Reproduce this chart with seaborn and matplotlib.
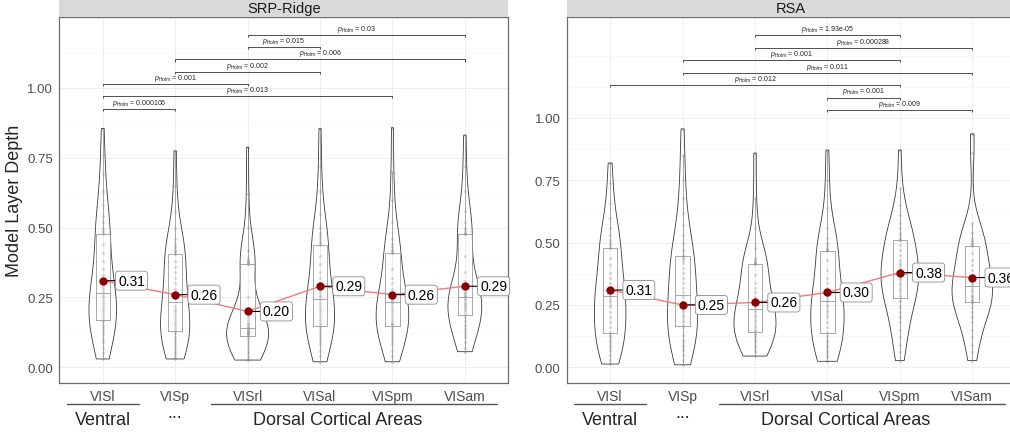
import numpy as np
import pandas as pd
import matplotlib
matplotlib.use("Agg")
import matplotlib.pyplot as plt
import seaborn as sns
from matplotlib.transforms import blended_transform_factory

# ---------------- data ----------------
areas = ["VISl", "VISp", "VISrl", "VISal", "VISpm", "VISam"]

srp_VISl = [0.03, 0.05, 0.07, 0.09, 0.10, 0.12, 0.13, 0.14, 0.15, 0.165,
            0.17, 0.18, 0.19, 0.20, 0.21, 0.22, 0.23, 0.24, 0.25, 0.26,
            0.27, 0.28, 0.29, 0.31, 0.33, 0.35, 0.38, 0.41, 0.44, 0.477,
            0.48, 0.49, 0.50, 0.52, 0.54, 0.58, 0.63, 0.69, 0.76, 0.854]
srp_VISp = [0.03, 0.04, 0.05, 0.06, 0.07, 0.08, 0.09, 0.10, 0.11, 0.124,
            0.13, 0.14, 0.15, 0.16, 0.17, 0.18, 0.19, 0.20, 0.21, 0.22,
            0.25, 0.26, 0.27, 0.28, 0.30, 0.32, 0.34, 0.36, 0.38, 0.404,
            0.41, 0.415, 0.42, 0.43, 0.44, 0.46, 0.50, 0.56, 0.65, 0.774]
srp_VISrl = [0.026, 0.03, 0.04, 0.05, 0.06, 0.07, 0.08, 0.09, 0.10, 0.11,
             0.114, 0.118, 0.12, 0.122, 0.125, 0.128, 0.13, 0.133, 0.136, 0.14,
             0.142, 0.145, 0.15, 0.155, 0.16, 0.17, 0.18, 0.20, 0.25, 0.369,
             0.37, 0.372, 0.375, 0.38, 0.385, 0.39, 0.42, 0.50, 0.62, 0.787]
srp_VISal = [0.02, 0.04, 0.06, 0.08, 0.09, 0.10, 0.11, 0.12, 0.13, 0.144,
             0.15, 0.16, 0.17, 0.18, 0.19, 0.20, 0.21, 0.22, 0.23, 0.24,
             0.25, 0.26, 0.27, 0.28, 0.30, 0.32, 0.34, 0.37, 0.40, 0.436,
             0.44, 0.45, 0.46, 0.47, 0.48, 0.50, 0.55, 0.63, 0.72, 0.854]
srp_VISpm = [0.02, 0.04, 0.06, 0.08, 0.09, 0.10, 0.11, 0.12, 0.13, 0.141,
             0.15, 0.155, 0.16, 0.17, 0.18, 0.19, 0.20, 0.21, 0.22, 0.23,
             0.235, 0.24, 0.245, 0.25, 0.26, 0.28, 0.30, 0.32, 0.35, 0.408,
             0.41, 0.415, 0.42, 0.43, 0.44, 0.46, 0.52, 0.60, 0.70, 0.857]
srp_VISam = [0.056, 0.07, 0.09, 0.11, 0.12, 0.13, 0.14, 0.15, 0.165, 0.18,
             0.19, 0.20, 0.21, 0.215, 0.22, 0.225, 0.23, 0.24, 0.245, 0.25,
             0.255, 0.26, 0.265, 0.27, 0.28, 0.29, 0.31, 0.34, 0.40, 0.477,
             0.478, 0.48, 0.482, 0.49, 0.50, 0.52, 0.56, 0.63, 0.72, 0.83]

rsa_VISl = [0.013, 0.03, 0.05, 0.07, 0.08, 0.09, 0.10, 0.11, 0.12, 0.129,
            0.14, 0.16, 0.18, 0.20, 0.22, 0.24, 0.25, 0.26, 0.27, 0.28,
            0.29, 0.30, 0.31, 0.32, 0.34, 0.36, 0.38, 0.41, 0.44, 0.479,
            0.48, 0.49, 0.50, 0.51, 0.53, 0.56, 0.60, 0.66, 0.74, 0.819]
rsa_VISp = [0.01, 0.03, 0.05, 0.07, 0.08, 0.09, 0.10, 0.11, 0.13, 0.16,
            0.17, 0.18, 0.19, 0.20, 0.21, 0.22, 0.23, 0.24, 0.26, 0.28,
            0.30, 0.32, 0.34, 0.36, 0.38, 0.40, 0.42, 0.43, 0.44, 0.443,
            0.45, 0.47, 0.50, 0.53, 0.57, 0.62, 0.68, 0.75, 0.85, 0.956]
rsa_VISrl = [0.045, 0.06, 0.07, 0.08, 0.09, 0.10, 0.11, 0.12, 0.13, 0.139,
             0.145, 0.15, 0.16, 0.17, 0.18, 0.19, 0.20, 0.21, 0.22, 0.23,
             0.24, 0.25, 0.26, 0.27, 0.28, 0.30, 0.32, 0.34, 0.37, 0.415,
             0.416, 0.418, 0.42, 0.425, 0.43, 0.44, 0.48, 0.56, 0.68, 0.859]
rsa_VISal = [0.024, 0.04, 0.05, 0.06, 0.07, 0.08, 0.09, 0.10, 0.11, 0.124,
             0.14, 0.16, 0.18, 0.20, 0.21, 0.22, 0.23, 0.24, 0.25, 0.26,
             0.27, 0.28, 0.29, 0.30, 0.32, 0.34, 0.36, 0.39, 0.43, 0.467,
             0.47, 0.475, 0.48, 0.49, 0.50, 0.52, 0.56, 0.64, 0.75, 0.871]
rsa_VISpm = [0.027, 0.06, 0.09, 0.12, 0.15, 0.18, 0.20, 0.22, 0.24, 0.267,
             0.28, 0.29, 0.30, 0.31, 0.32, 0.33, 0.34, 0.35, 0.36, 0.37,
             0.38, 0.39, 0.40, 0.41, 0.42, 0.43, 0.45, 0.47, 0.49, 0.509,
             0.51, 0.52, 0.53, 0.54, 0.56, 0.58, 0.61, 0.65, 0.72, 0.871]
rsa_VISam = [0.027, 0.06, 0.09, 0.12, 0.15, 0.18, 0.20, 0.22, 0.24, 0.259,
             0.262, 0.265, 0.27, 0.275, 0.28, 0.285, 0.29, 0.30, 0.31, 0.32,
             0.33, 0.34, 0.35, 0.36, 0.37, 0.39, 0.41, 0.43, 0.46, 0.487,
             0.49, 0.495, 0.50, 0.505, 0.51, 0.52, 0.54, 0.58, 0.86, 0.936]

srp_means = [0.31, 0.26, 0.20, 0.29, 0.26, 0.29]
rsa_means = [0.31, 0.25, 0.26, 0.30, 0.38, 0.36]

srp_pairs = [("VISl", "VISp"), ("VISl", "VISpm"), ("VISl", "VISrl"), ("VISp", "VISal"),
             ("VISp", "VISam"), ("VISrl", "VISal"), ("VISrl", "VISam")]
srp_pvals = ["0.000106", "0.013", "0.001", "0.002", "0.006", "0.015", "0.03"]

rsa_pairs = [("VISal", "VISam"), ("VISal", "VISpm"), ("VISl", "VISpm"), ("VISp", "VISam"),
             ("VISp", "VISpm"), ("VISrl", "VISam"), ("VISrl", "VISpm")]
rsa_pvals = ["0.009", "0.001", "0.012", "0.011", "0.001", "0.000288", "1.93e-05"]

y_ticks = [0.0, 0.25, 0.50, 0.75, 1.00]
y_label = "Model Layer Depth"

# ---------------- style ----------------
sns.set_style("white")
plt.rcParams["font.family"] = ["Liberation Sans", "DejaVu Sans"]
plt.rcParams["mathtext.fontset"] = "custom"
plt.rcParams["mathtext.rm"] = "Liberation Sans"
plt.rcParams["mathtext.it"] = "Liberation Sans:italic"

W, H = 1010, 435
fig = plt.figure(figsize=(W / 100, H / 100), dpi=100)

panel_top, panel_bot = 18, 384
panel_w = 449

panels = [
    dict(title="SRP-Ridge", data=[srp_VISl, srp_VISp, srp_VISrl, srp_VISal, srp_VISpm, srp_VISam],
         means=srp_means, pairs=srp_pairs, pvals=srp_pvals, ylim=(-0.056, 1.253),
         bstart=0.925, bstep=0.044, left=59.3),
    dict(title="RSA", data=[rsa_VISl, rsa_VISp, rsa_VISrl, rsa_VISal, rsa_VISpm, rsa_VISam],
         means=rsa_means, pairs=rsa_pairs, pvals=rsa_pvals, ylim=(-0.063, 1.405),
         bstart=1.032, bstep=0.050, left=566.7),
]

for spec in panels:
    x0 = spec["left"] / W
    ax = fig.add_axes([x0, 1 - panel_bot / H, panel_w / W, (panel_bot - panel_top) / H])
    sax = fig.add_axes([x0, 1 - panel_top / H, panel_w / W, panel_top / H])

    df = pd.DataFrame({
        "area": np.concatenate([[a] * len(v) for a, v in zip(areas, spec["data"])]),
        "value": np.concatenate([np.asarray(v, float) for v in spec["data"]]),
    })
    mdf = pd.DataFrame({"area": areas, "mean": spec["means"]})

    sns.stripplot(data=df, x="area", y="value", order=areas, jitter=False,
                  color="#8a8a8a", alpha=0.3, size=2.3, linewidth=0, ax=ax, zorder=1)
    sns.boxplot(data=df, x="area", y="value", order=areas, width=0.2, fill=False,
                color="#9a9a9a", linewidth=0.6, showfliers=False,
                capprops=dict(alpha=0, linewidth=0), ax=ax)
    sns.violinplot(data=df, x="area", y="value", order=areas, cut=0, inner=None,
                   fill=False, color="#3a3a3a", linewidth=0.6, density_norm="area",
                   width=0.58, bw_adjust=1.0, ax=ax)
    sns.pointplot(data=mdf, x="area", y="mean", order=areas, color="#F27B7B",
                  markers="", linestyles="-", linewidth=1.0, errorbar=None, ax=ax, zorder=3)
    sns.stripplot(data=mdf, x="area", y="mean", order=areas, jitter=False,
                  color="#8B0000", size=6, linewidth=0, ax=ax, zorder=6)

    for i, m in enumerate(spec["means"]):
        ax.annotate(f"{m:.2f}", xy=(i, m), xytext=(11, 0), textcoords="offset points",
                    ha="left", va="center", fontsize=10, color="black", zorder=5,
                    bbox=dict(boxstyle="round,pad=0.18,rounding_size=0.2", fc="white",
                              ec="#8c8c8c", lw=0.6),
                    arrowprops=dict(arrowstyle="-", color="black", lw=0.8,
                                    shrinkA=0, shrinkB=0))

    ylo, yhi = spec["ylim"]
    rng = yhi - ylo
    tick = 0.0055 * rng
    for k, ((a, b), p) in enumerate(zip(spec["pairs"], spec["pvals"])):
        y = spec["bstart"] + k * spec["bstep"]
        xa, xb = areas.index(a), areas.index(b)
        ax.plot([xa, xa, xb, xb], [y - tick, y, y, y - tick], color="#333333", lw=0.6,
                solid_capstyle="butt", zorder=4)
        ax.text((xa + xb) / 2, y + 0.003 * rng, r"$\mathit{p}_{\mathrm{Holm}}$ = " + p,
                ha="center", va="bottom", fontsize=5, color="#222222", zorder=4)

    ax.set_xlim(-0.6, 5.6)
    ax.set_ylim(ylo, yhi)
    ax.set_yticks(y_ticks)
    ax.set_yticklabels([f"{t:.2f}" for t in y_ticks])
    minor = [t for t in [0.125, 0.375, 0.625, 0.875, 1.125, 1.25] if t < yhi]
    ax.set_yticks(minor, minor=True)
    ax.set_xticks(range(len(areas)))
    ax.set_xticklabels(areas)
    ax.set_xlabel("")
    ax.set_ylabel("")
    ax.grid(True, which="major", color="#EBEBEB", lw=0.6, zorder=0)
    ax.grid(True, which="minor", axis="y", color="#F3F3F3", lw=0.4, zorder=0)
    ax.set_axisbelow(True)
    for s in ax.spines.values():
        s.set_color("#6E6E6E")
        s.set_linewidth(0.9)
    ax.tick_params(axis="both", which="major", length=3, width=0.6, color="#6E6E6E",
                   pad=1.5, labelcolor="#4D4D4D")
    ax.tick_params(axis="y", labelsize=9.5)
    ax.tick_params(axis="x", labelsize=10)
    ax.tick_params(which="minor", length=0)

    # facet strip
    sax.set_facecolor("#D9D9D9")
    sax.set_xticks([])
    sax.set_yticks([])
    for s in sax.spines.values():
        s.set_visible(False)
    sax.text(0.5, 0.5, spec["title"], ha="center", va="center", fontsize=10.5,
             color="#1A1A1A", transform=sax.transAxes)

    # group annotations below the x axis
    tr = blended_transform_factory(ax.transData, ax.transAxes)
    ly = -0.0574
    ax.plot([-0.5, 0.5], [ly, ly], color="#555555", lw=1.0, transform=tr, clip_on=False)
    ax.plot([1.5, 5.45], [ly, ly], color="#555555", lw=1.0, transform=tr, clip_on=False)
    ax.text(0, -0.100, "Ventral", ha="center", va="center", fontsize=13, transform=tr)
    ax.text(1, -0.093, "...", ha="center", va="baseline", fontsize=13, transform=tr)
    ax.text(3.25, -0.100, "Dorsal Cortical Areas", ha="center", va="center",
            fontsize=13, transform=tr)

fig.text(15 / W, 1 - 201 / H, y_label, rotation=90, ha="center", va="center", fontsize=13)

fig.savefig("out.png", dpi=100)
